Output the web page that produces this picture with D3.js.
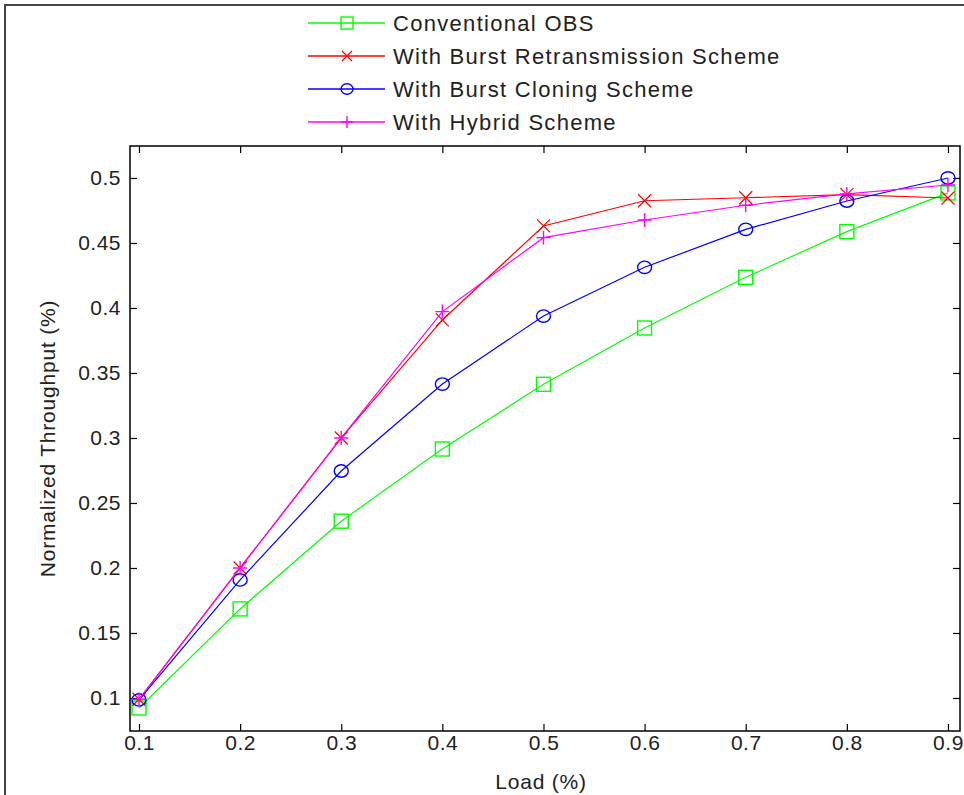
<!DOCTYPE html>
<html>
<head>
<meta charset="utf-8">
<script src="https://cdn.jsdelivr.net/npm/d3@7"></script>
<style>
  body { margin: 0; background: #fff; }
  svg text { font-family: "Liberation Sans", Arial, sans-serif; fill: #222; }
  .tick-label { font-size: 21px; letter-spacing: 0.5px; }
  .legend-label { font-size: 22px; letter-spacing: 1.3px; }
  .axis-title { font-size: 21px; letter-spacing: 0.8px; }
</style>
</head>
<body>
<div class="chart"></div>
<script>
// load values (x axis)
const loads = [0.1, 0.2, 0.3, 0.4, 0.5, 0.6, 0.7, 0.8, 0.9];

// normalized throughput per scheme
const conventional = [0.0923, 0.1685, 0.236, 0.2915, 0.3413, 0.3846, 0.4236, 0.4587, 0.4885];
const retransmission = [0.099, 0.2, 0.3, 0.3908, 0.4631, 0.4825, 0.4848, 0.4872, 0.4846];
const cloning = [0.0985, 0.1908, 0.2746, 0.3415, 0.3938, 0.4313, 0.4605, 0.4823, 0.5];
const hybrid = [0.099, 0.2, 0.3, 0.3972, 0.4541, 0.4677, 0.479, 0.4877, 0.4946];

const seriesNames = ['Conventional OBS', 'With Burst Retransmission Scheme',
    'With Burst Cloning Scheme', 'With Hybrid Scheme'];

const xTicks = [0.1, 0.2, 0.3, 0.4, 0.5, 0.6, 0.7, 0.8, 0.9];
const yTicks = [0.1, 0.15, 0.2, 0.25, 0.3, 0.35, 0.4, 0.45, 0.5];
const yTickLabels = ['0.1', '0.15', '0.2', '0.25', '0.3', '0.35', '0.4', '0.45', '0.5'];

const width = 964;
const height = 795;
const box = {left: 130, right: 960, top: 146, bottom: 731};

const series = [
    {name: seriesNames[0], values: conventional, color: '#00ff00', marker: 'square'},
    {name: seriesNames[1], values: retransmission, color: '#ff0000', marker: 'x'},
    {name: seriesNames[2], values: cloning, color: '#0000ff', marker: 'circle'},
    {name: seriesNames[3], values: hybrid, color: '#ff00ff', marker: 'plus'}
];

let svg = d3.select(".chart").append("svg")
    .attr("width", width)
    .attr("height", height);

// figure frame (only top/left edges fall inside the view)
svg.append("path")
    .attr("d", "M5,800 L5,5 L970,5")
    .attr("fill", "none")
    .attr("stroke", "#444")
    .attr("stroke-width", 2);

let x = d3.scaleLinear().domain([0.0911, 0.9119]).range([box.left, box.right]);
let y = d3.scaleLinear().domain([0.0746, 0.5246]).range([box.bottom, box.top]);

function styleAxis(g) {
    g.select(".domain").remove();
    g.selectAll(".tick line").attr("stroke", "#000").attr("stroke-width", 1.2);
    g.selectAll(".tick text").attr("class", "tick-label").attr("fill", "#222")
        .attr("font-size", null).attr("font-family", null);
}

svg.append("g")
    .attr("transform", `translate(0,${box.bottom})`)
    .call(d3.axisBottom(x).tickValues(xTicks).tickFormat(d => String(d))
        .tickSizeInner(-7).tickSizeOuter(0).tickPadding(4))
    .call(styleAxis);

svg.append("g")
    .attr("transform", `translate(0,${box.top})`)
    .call(d3.axisTop(x).tickValues(xTicks).tickFormat("")
        .tickSizeInner(-7).tickSizeOuter(0))
    .call(styleAxis);

svg.append("g")
    .attr("transform", `translate(${box.left},0)`)
    .call(d3.axisLeft(y).tickValues(yTicks).tickFormat((d, i) => yTickLabels[i])
        .tickSizeInner(-7).tickSizeOuter(0).tickPadding(9))
    .call(styleAxis);

svg.append("g")
    .attr("transform", `translate(${box.right},0)`)
    .call(d3.axisRight(y).tickValues(yTicks).tickFormat("")
        .tickSizeInner(-7).tickSizeOuter(0))
    .call(styleAxis);

// plot box
svg.append("rect")
    .attr("x", box.left)
    .attr("y", box.top)
    .attr("width", box.right - box.left)
    .attr("height", box.bottom - box.top)
    .attr("fill", "none")
    .attr("stroke", "#000")
    .attr("stroke-width", 1.5);

// axis titles
svg.append("text")
    .attr("class", "axis-title")
    .attr("x", (box.left + box.right) / 2 - 4)
    .attr("y", 789)
    .attr("text-anchor", "middle")
    .text("Load (%)");

svg.append("text")
    .attr("class", "axis-title")
    .attr("transform", `translate(55,${(box.top + box.bottom) / 2}) rotate(-90)`)
    .attr("text-anchor", "middle")
    .text("Normalized Throughput (%)");

function drawMarker(g, type, cx, cy, size, color) {
    const h = size / 2;
    if (type === 'square') {
        g.append("rect").attr("x", cx - h).attr("y", cy - h)
            .attr("width", size).attr("height", size)
            .attr("fill", "none").attr("stroke", color).attr("stroke-width", 1.4);
    } else if (type === 'circle') {
        g.append("ellipse").attr("cx", cx).attr("cy", cy)
            .attr("rx", h).attr("ry", h - 0.8)
            .attr("fill", "none").attr("stroke", color).attr("stroke-width", 1.4);
    } else if (type === 'x') {
        g.append("path")
            .attr("d", `M${cx - h},${cy - h}L${cx + h},${cy + h}M${cx - h},${cy + h}L${cx + h},${cy - h}`)
            .attr("stroke", color).attr("stroke-width", 1.2);
    } else if (type === 'plus') {
        g.append("path")
            .attr("d", `M${cx - h},${cy}L${cx + h},${cy}M${cx},${cy - h}L${cx},${cy + h}`)
            .attr("stroke", color).attr("stroke-width", 1.4);
    }
}

let line = d3.line()
    .x(d => x(d[0]))
    .y(d => y(d[1]));

let plot = svg.append("g").classed("series-group", true);
series.forEach(s => {
    const pts = loads.map((l, i) => [l, s.values[i]]);
    let g = plot.append("g");
    g.append("path")
        .datum(pts)
        .attr("d", line)
        .attr("fill", "none")
        .attr("stroke", s.color)
        .attr("stroke-width", 1.2);
    pts.forEach(p => drawMarker(g, s.marker, x(p[0]), y(p[1]), s.marker === 'x' ? 13 : 14, s.color));
});

// legend (no frame, above the axes)
let legendGroup = svg.append("g").classed("legend-group", true);
series.forEach((s, i) => {
    const ly = 23 + i * 33;
    let item = legendGroup.append("g");
    item.append("line")
        .attr("x1", 308).attr("x2", 385)
        .attr("y1", ly).attr("y2", ly)
        .attr("stroke", s.color).attr("stroke-width", 1.4);
    drawMarker(item, s.marker, 347, ly, s.marker === 'x' ? 10 : 12, s.color);
    item.append("text")
        .attr("class", "legend-label")
        .attr("x", 393)
        .attr("y", ly)
        .attr("dy", "0.36em")
        .text(s.name);
});
</script>
</body>
</html>
